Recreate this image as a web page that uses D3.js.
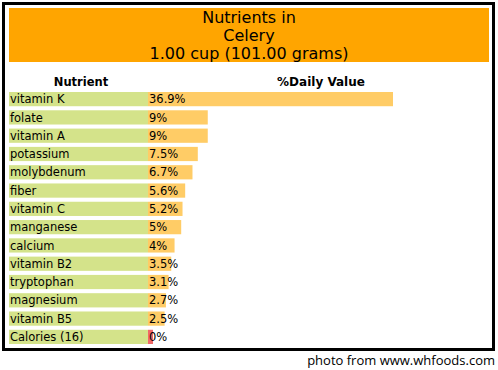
<!DOCTYPE html>
<html>
<head>
<meta charset="utf-8">
<script src="https://cdn.jsdelivr.net/npm/d3@7"></script>
<style>
  body { margin: 0; background: #fff; }
  svg text { font-family: "DejaVu Sans", Verdana, sans-serif; }
</style>
</head>
<body>
<svg id="chart" width="498" height="370"></svg>
<script>
// data
const nutrients = ["vitamin K", "folate", "vitamin A", "potassium", "molybdenum", "fiber", "vitamin C",
    "manganese", "calcium", "vitamin B2", "tryptophan", "magnesium", "vitamin B5", "Calories (16)"];
const dailyValues = [36.9, 9, 9, 7.5, 6.7, 5.6, 5.2, 5, 4, 3.5, 3.1, 2.7, 2.5, 0];
const valueLabels = ["36.9%", "9%", "9%", "7.5%", "6.7%", "5.6%", "5.2%", "5%", "4%", "3.5%", "3.1%", "2.7%", "2.5%", "0%"];
const titleLines = ["Nutrients in", "Celery", "1.00 cup (101.00 grams)"];

const rows = nutrients.map((n, i) => ({ name: n, value: dailyValues[i], label: valueLabels[i] }));

const svg = d3.select("#chart");

// outer frame
svg.append("rect")
    .attr("x", 3.5).attr("y", 3.5)
    .attr("width", 490).attr("height", 346)
    .attr("fill", "none")
    .attr("stroke", "#000")
    .attr("stroke-width", 3);

// header block
svg.append("rect")
    .attr("x", 9).attr("y", 8)
    .attr("width", 480).attr("height", 54)
    .attr("fill", "#ffa500");

svg.selectAll(".title")
    .data(titleLines)
    .enter()
    .append("text")
    .attr("class", "title")
    .attr("x", 249)
    .attr("y", (d, i) => 23 + i * 18)
    .attr("text-anchor", "middle")
    .style("font-size", "16px")
    .text(d => d);

// column headers
svg.append("text")
    .attr("x", 81).attr("y", 86)
    .attr("text-anchor", "middle")
    .style("font-size", "11.5px")
    .style("font-weight", "bold")
    .text("Nutrient");

svg.append("text")
    .attr("x", 321).attr("y", 86)
    .attr("text-anchor", "middle")
    .style("font-size", "12px")
    .style("font-weight", "bold")
    .text("%Daily Value");

const y = d3.scaleBand()
    .domain(nutrients)
    .range([92, 92 + 18 * nutrients.length])
    .paddingInner(4 / 18)
    .paddingOuter(0)
    .align(0);

const x = d3.scaleLinear()
    .domain([0, 36.9])
    .range([148, 393]);

const g = svg.append("g");

// green name cells
g.selectAll(".name-bg")
    .data(rows)
    .enter()
    .append("rect")
    .attr("x", 9)
    .attr("y", d => y(d.name))
    .attr("width", x(0) - 9)
    .attr("height", y.bandwidth())
    .attr("fill", "#d4e38a");

// value bars
g.selectAll(".bar")
    .data(rows)
    .enter()
    .append("rect")
    .attr("x", x(0))
    .attr("y", d => y(d.name))
    .attr("width", d => Math.max(5, x(d.value) - x(0)))
    .attr("height", y.bandwidth())
    .attr("fill", d => d.value === 0 ? "#f06868" : "#ffcc66");

g.selectAll(".name")
    .data(rows)
    .enter()
    .append("text")
    .attr("x", 10)
    .attr("y", d => y(d.name) + y.bandwidth() - 3)
    .style("font-size", "11.5px")
    .text(d => d.name);

g.selectAll(".val")
    .data(rows)
    .enter()
    .append("text")
    .attr("x", x(0) + 1)
    .attr("y", d => y(d.name) + y.bandwidth() - 3)
    .style("font-size", "11.5px")
    .text(d => d.label);

// credit line
svg.append("text")
    .attr("x", 495).attr("y", 365)
    .attr("text-anchor", "end")
    .style("font-family", "'Open Sans', sans-serif")
    .style("font-size", "13px")
    .text("photo from www.whfoods.com");
</script>
</body>
</html>
